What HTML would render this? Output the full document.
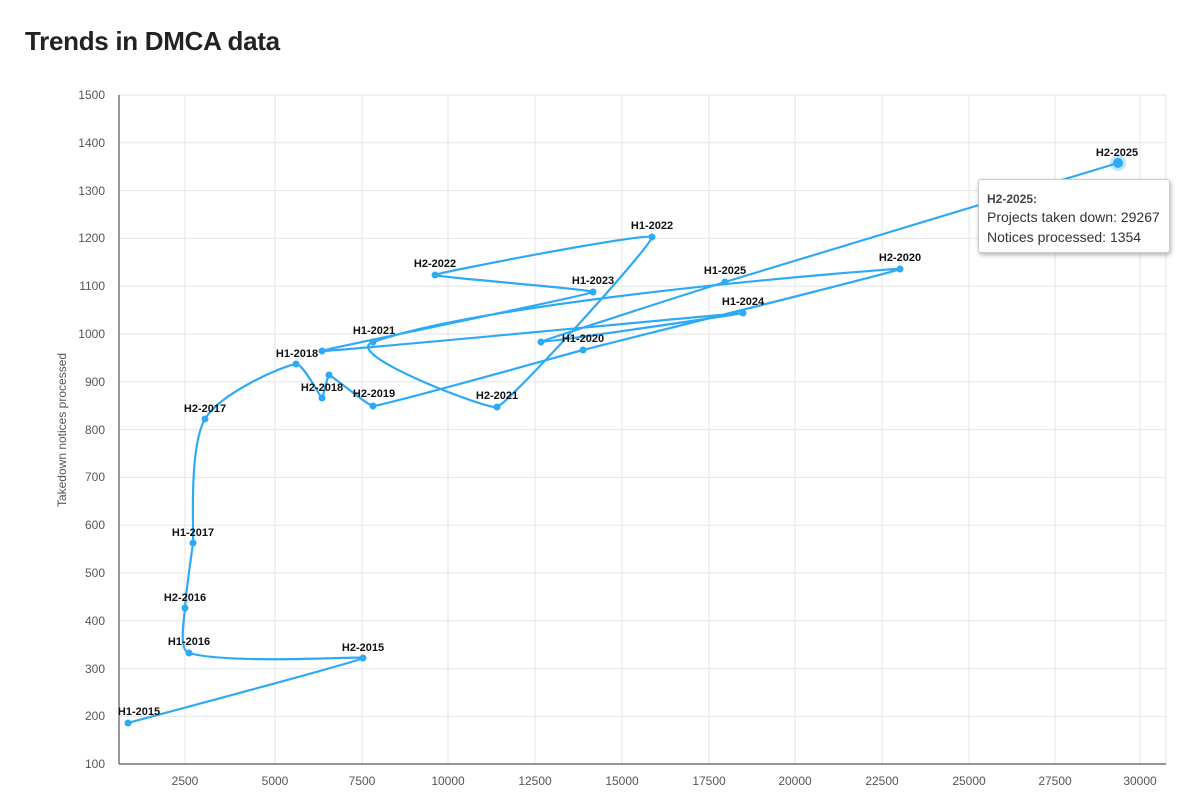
<!DOCTYPE html>
<html><head><meta charset="utf-8"><style>
body{margin:0;background:#fff;width:1200px;height:798px;overflow:hidden;font-family:"Liberation Sans",sans-serif}
h1{position:absolute;left:25px;top:26px;margin:0;font-size:26px;font-weight:bold;color:#222;letter-spacing:-0.3px}
.tip{position:absolute;left:978px;top:179px;width:192px;height:74px;background:#fff;border:1px solid #ccc;border-radius:3px;box-shadow:1px 2px 5px rgba(0,0,0,.3);font-size:14px;color:#333;box-sizing:border-box;padding:11px 0 0 8px;line-height:20px}
.tip b{font-size:12px;color:#444;display:block;line-height:16px}
</style></head><body>
<h1>Trends in DMCA data</h1>
<svg width="1200" height="798" style="position:absolute;left:0;top:0" font-family="Liberation Sans, sans-serif">
<g stroke="#e6e6e6" stroke-width="1" id="grid"></g>
<line x1="119" y1="95" x2="119" y2="764" stroke="#333"/>
<line x1="119" y1="764" x2="1166" y2="764" stroke="#333"/>
<g font-size="12" fill="#555" text-anchor="end">
<text x="105" y="99">1500</text><text x="105" y="147">1400</text><text x="105" y="195">1300</text><text x="105" y="242">1200</text><text x="105" y="290">1100</text><text x="105" y="338">1000</text><text x="105" y="386">900</text><text x="105" y="434">800</text><text x="105" y="481">700</text><text x="105" y="529">600</text><text x="105" y="577">500</text><text x="105" y="625">400</text><text x="105" y="673">300</text><text x="105" y="720">200</text><text x="105" y="768">100</text>
</g>
<g font-size="12" fill="#555" text-anchor="middle">
<text x="185" y="785">2500</text><text x="275" y="785">5000</text><text x="362" y="785">7500</text><text x="448" y="785">10000</text><text x="535" y="785">12500</text><text x="622" y="785">15000</text><text x="709" y="785">17500</text><text x="795" y="785">20000</text><text x="882" y="785">22500</text><text x="969" y="785">25000</text><text x="1055" y="785">27500</text><text x="1140" y="785">30000</text>
</g>
<text transform="translate(66,430) rotate(-90)" font-size="12" fill="#555" text-anchor="middle">Takedown notices processed</text>
<path id="line" fill="none" stroke="#2eaaf5" stroke-width="2.2"/>
<g id="pts" fill="#2eaaf5"></g>
<circle cx="1118" cy="163" r="8" fill="#2eaaf5" opacity="0.3"/>
<circle cx="1118" cy="163" r="5" fill="#2eaaf5"/>
<g font-size="11" font-weight="bold" fill="#111" text-anchor="middle">
<text x="139" y="715">H1-2015</text><text x="363" y="651">H2-2015</text><text x="189" y="645">H1-2016</text><text x="185" y="601">H2-2016</text><text x="193" y="536">H1-2017</text><text x="205" y="412">H2-2017</text><text x="297" y="357">H1-2018</text><text x="322" y="391">H2-2018</text><text x="374" y="397">H2-2019</text><text x="583" y="342">H1-2020</text><text x="900" y="261">H2-2020</text><text x="374" y="334">H1-2021</text><text x="497" y="399">H2-2021</text><text x="652" y="229">H1-2022</text><text x="435" y="267">H2-2022</text><text x="593" y="284">H1-2023</text><text x="743" y="305">H1-2024</text><text x="725" y="274">H1-2025</text><text x="1117" y="156">H2-2025</text>
</g>
</svg>
<div class="tip"><b>H2-2025:</b>Projects taken down: 29267<br>Notices processed: 1354</div>
<script>
var g=document.getElementById('grid'),s='';
[185,275,362,448,535,622,709,795,882,969,1055,1140,1166].forEach(function(x){s+='<line x1="'+x+'" y1="95" x2="'+x+'" y2="764"/>';});
for(var i=0;i<15;i++){var y=95+i*47.8;s+='<line x1="119" y1="'+y+'" x2="1166" y2="'+y+'"/>';}
g.innerHTML=s;
var P=[[128,723],[363,658],[189,653],[185,608],[193,543],[205,419],[296,364],[322,398],[329,375],[373,406],[583,350],[900,269],[373,342],[497,407],[652,237],[435,275],[593,292],[322,351],[743,313],[541,342],[725,282],[1118,163]];
var TT={2:0.3,5:0.3,6:0.2,12:0.4,3:0.2};
var n=P.length,C=[];
function dist(a,b){return Math.hypot(a[0]-b[0],a[1]-b[1]);}
for(var i=0;i<n;i++){var T=TT[i]!==undefined?TT[i]:0.08;var p0=P[Math.max(0,i-1)],p1=P[i],p2=P[Math.min(n-1,i+1)];
var d01=dist(p0,p1),d12=dist(p1,p2),sum=d01+d12||1,fa=T*d01/sum,fb=T*d12/sum;
C.push({pr:[p1[0]-fa*(p2[0]-p0[0]),p1[1]-fa*(p2[1]-p0[1])],nx:[p1[0]+fb*(p2[0]-p0[0]),p1[1]+fb*(p2[1]-p0[1])]});}
var d='M'+P[0][0]+','+P[0][1];
for(var i=0;i<n-1;i++){d+=' C'+C[i].nx[0]+','+C[i].nx[1]+' '+C[i+1].pr[0]+','+C[i+1].pr[1]+' '+P[i+1][0]+','+P[i+1][1];}
document.getElementById('line').setAttribute('d',d);
var q='';P.forEach(function(p){q+='<circle cx="'+p[0]+'" cy="'+p[1]+'" r="3.5"/>';});
document.getElementById('pts').innerHTML=q;
</script>
</body></html>
